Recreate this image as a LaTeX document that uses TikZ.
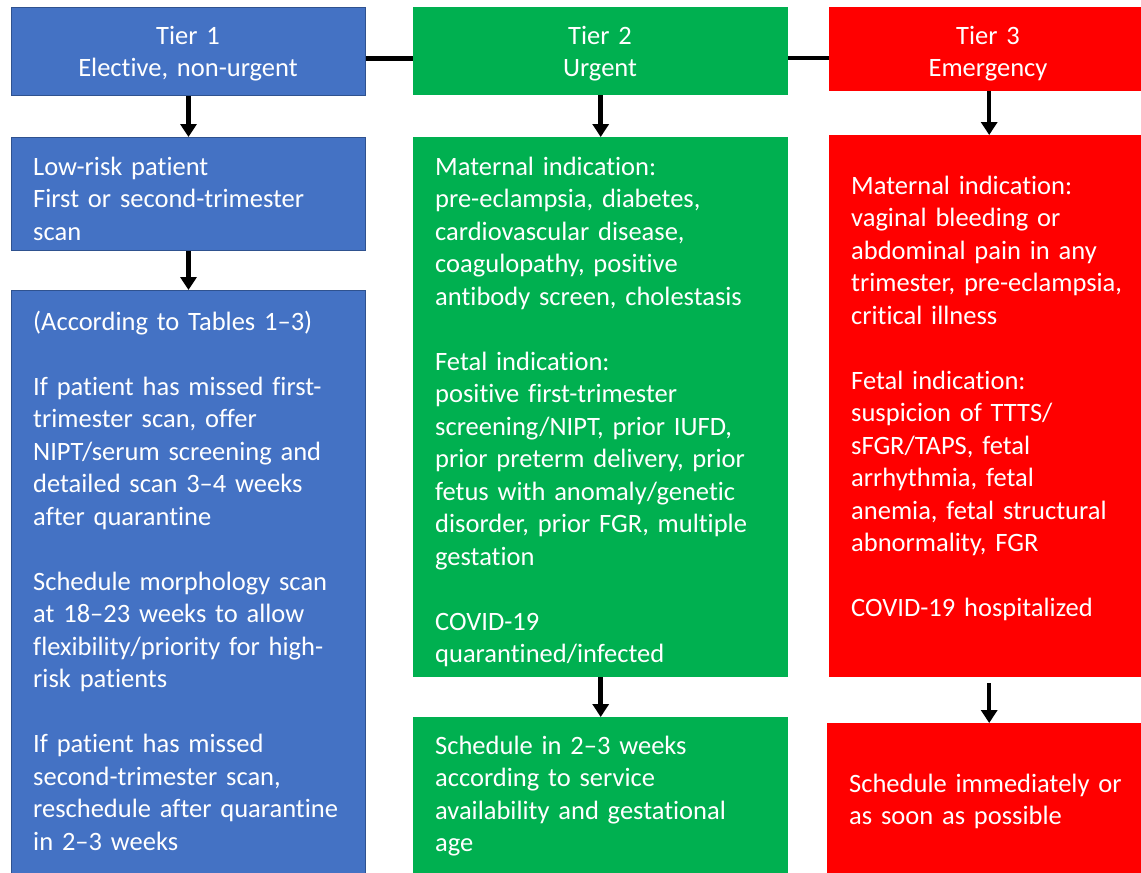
\documentclass[tikz,border=0pt]{standalone}
\usepackage{fontspec}
\setmainfont{Carlito}[Ligatures=NoCommon, WordSpace=0.8]
\usetikzlibrary{arrows.meta}
\definecolor{tierblue}{HTML}{4472C4}
\definecolor{tierblueedge}{HTML}{2F528F}
\definecolor{tiergreen}{HTML}{00B050}
\definecolor{tierred}{HTML}{FF0000}

\begin{document}
\begin{tikzpicture}[x=1pt, y=-1pt,
    box/.style={anchor=north west, inner sep=0pt},
    tierone/.style={box, fill=tierblue, draw=tierblueedge, line width=1pt},
    tiertwo/.style={box, fill=tiergreen},
    tierthree/.style={box, fill=tierred},
    txt/.style={anchor=base west, inner sep=0pt, text width=340pt, align=left,
        text=white, font=\fontsize{26.5}{32.5}\selectfont},
    headtxt/.style={txt, anchor=base, align=center},
    link/.style={line width=4.5pt},
    arrow/.style={line width=4.5pt, -{Triangle[width=16pt, length=13pt]}}]
    \useasboundingbox (0,0) rectangle (1141,873);

    % Tier 1
    \node[tierone, minimum width=354pt, minimum height=88pt] (t1) at (11,7) {};
    \node[headtxt] (t1-text) at (188,44) {Tier 1\\Elective, non-urgent};
    \node[tierone, minimum width=354pt, minimum height=113pt] (t1a) at (11,137) {};
    \node[txt] (t1a-text) at (33,175) {Low-risk patient\\First or second-trimester\\scan};
    \node[tierone, minimum width=354pt, minimum height=590pt] (t1b) at (11,290) {};
    \node[txt] (t1b-text) at (33,330)
        {(According to Tables 1--3)\\[32.5pt]
         If patient has missed first-\\trimester scan, offer\\NIPT/serum screening and\\detailed scan 3--4 weeks\\after quarantine\\[32.5pt]
         Schedule morphology scan\\at 18--23 weeks to allow\\flexibility/priority for high-\\risk patients\\[32.5pt]
         If patient has missed\\second-trimester scan,\\reschedule after quarantine\\in 2--3 weeks};

    % Tier 2
    \node[tiertwo, minimum width=375pt, minimum height=88pt] (t2) at (413,7) {};
    \node[headtxt] (t2-text) at (600,44) {Tier 2\\Urgent};
    \node[tiertwo, minimum width=375pt, minimum height=540pt] (t2a) at (413,137) {};
    \node[txt] (t2a-text) at (435,175)
        {Maternal indication:\\pre-eclampsia, diabetes,\\cardiovascular disease,\\coagulopathy, positive\\antibody screen, cholestasis\\[32.5pt]
         Fetal indication:\\positive first-trimester\\screening/NIPT, prior IUFD,\\prior preterm delivery, prior\\fetus with anomaly/genetic\\disorder, prior FGR, multiple\\gestation\\[32.5pt]
         COVID-19\\quarantined/infected};
    \node[tiertwo, minimum width=375pt, minimum height=160pt] (t2b) at (413,717) {};
    \node[txt] (t2b-text) at (435,754)
        {Schedule in 2--3 weeks\\according to service\\availability and gestational\\age};

    % Tier 3
    \node[tierthree, minimum width=320pt, minimum height=84pt] (t3) at (829,7) {};
    \node[headtxt] (t3-text) at (988,44) {Tier 3\\Emergency};
    \node[tierthree, minimum width=320pt, minimum height=542pt] (t3a) at (829,135) {};
    \node[txt] (t3a-text) at (851,194)
        {Maternal indication:\\vaginal bleeding or\\abdominal pain in any\\trimester, pre-eclampsia,\\critical illness\\[32.5pt]
         Fetal indication:\\suspicion of TTTS/\\sFGR/TAPS, fetal\\arrhythmia, fetal\\anemia, fetal structural\\abnormality, FGR\\[32.5pt]
         COVID-19 hospitalized};
    \node[tierthree, minimum width=322pt, minimum height=155pt] (t3b) at (827,723) {};
    \node[txt] (t3b-text) at (849,792) {Schedule immediately or\\as soon as possible};

    % Links and arrows
    \draw[link] ([yshift=-7pt]t1.east) -- ([yshift=-7pt]t1.east -| t2.west);
    \draw[link] ([yshift=-7pt]t2.east) -- ([yshift=-7pt]t2.east -| t3.west);
    \draw[arrow] (t1) -- (t1a);
    \draw[arrow] (t1a) -- (t1b);
    \draw[arrow] (t2) -- (t2a);
    \draw[arrow] (t2a) -- (t2b);
    \draw[arrow] (t3) -- (t3a);
    \draw[arrow] ([yshift=-6pt]t3a.south) -- (t3a.south |- t3b.north);
\end{tikzpicture}
\end{document}
